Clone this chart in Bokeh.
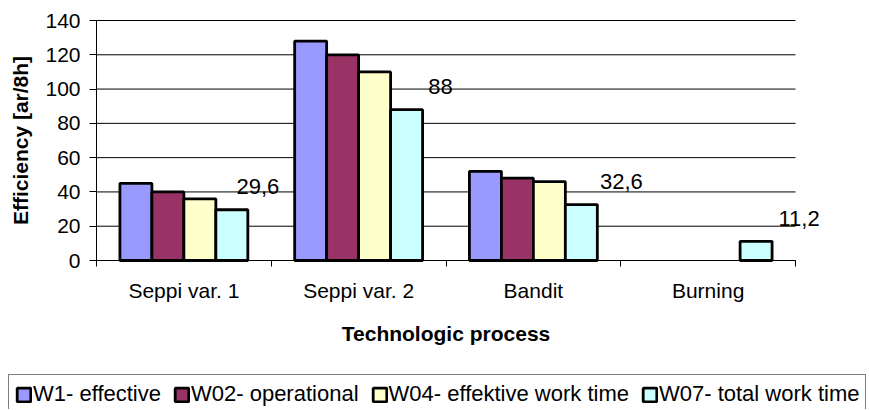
import numpy as np
from bokeh.plotting import figure
from bokeh.models import ColumnDataSource, FixedTicker, Legend, LegendItem, Range1d, LabelSet
from bokeh.transform import dodge
from bokeh.core.properties import value
from bokeh.embed import file_html
from bokeh.resources import INLINE

# ---- data ----
categories = ["Seppi var. 1", "Seppi var. 2", "Bandit", "Burning"]
series_names = ["W1- effective", "W02- operational", "W04- effektive work time", "W07- total work time"]
w1 = [45, 128, 52, np.nan]
w02 = [40, 120, 48, np.nan]
w04 = [36, 110, 46, np.nan]
w07 = [29.6, 88, 32.6, 11.2]
w07_labels = ["29,6", "88", "32,6", "11,2"]
y_ticks = [0, 20, 40, 60, 80, 100, 120, 140]

# ---- style / layout ----
colors = ["#9999FF", "#993366", "#FFFFCC", "#CCFFFF"]
FONT = "Liberation Sans"
W, H = 866, 409
n = len(categories)
y_max = y_ticks[-1]
px_left, px_right = 96, 795      # pixel columns of category bounds 0 and n
py_top, py_bottom = 20, 260      # pixel rows of y_max and 0
sx = (px_right - px_left) / n
sy = (py_bottom - py_top) / y_max
x_range = Range1d(-px_left / sx, n + (W - px_right) / sx)
y_range = Range1d(-(H - py_bottom) / sy, y_max + py_top / sy)

bar_w = 0.183
offsets = [-1.5 * bar_w, -0.5 * bar_w, 0.5 * bar_w, 1.5 * bar_w]
label_dx = [26, 34, 40, 43]  # pixel shift of the data labels

centers = [i + 0.5 for i in range(n)]
src = ColumnDataSource(dict(x=centers, w1=w1, w02=w02, w04=w04, w07=w07,
                            lab=w07_labels, dx=label_dx))

p = figure(width=W, height=H, output_backend="svg", toolbar_location=None,
           x_range=x_range, y_range=y_range,
           min_border_left=0, min_border_right=0, min_border_top=0, min_border_bottom=0)
p.outline_line_color = None
p.background_fill_color = "white"
p.border_fill_color = "white"
p.xgrid.grid_line_color = None
p.ygrid.grid_line_color = None

# horizontal gridlines across the category span only
p.segment(x0=0, x1=n, y0=y_ticks, y1=y_ticks, line_color="black", line_width=1)

items = []
for name, col, off, c in zip(series_names, ["w1", "w02", "w04", "w07"], offsets, colors):
    r = p.vbar(x=dodge("x", off, range=p.x_range), top=col, width=bar_w, bottom=0,
               source=src, fill_color=c, line_color="black", line_width=2.8)
    items.append(LegendItem(label=name, renderers=[r]))

labels = LabelSet(x=dodge("x", offsets[3], range=p.x_range), y="w07", text="lab", source=src,
                  x_offset="dx", y_offset=23, text_align="center", text_baseline="middle",
                  text_font=value(FONT), text_font_size="22px", text_color="black")
p.add_layout(labels)

# axes (fixed inside the frame)
xa = p.xaxis[0]
xa.fixed_location = 0
xa.bounds = (0, n)
xa.ticker = FixedTicker(ticks=centers, minor_ticks=list(range(n + 1)))
xa.major_label_overrides = {c: cat for c, cat in zip(centers, categories)}
xa.major_tick_out = 0
xa.major_tick_in = 0
xa.minor_tick_out = 6
xa.minor_tick_in = 0
xa.minor_tick_line_color = "black"
xa.axis_line_color = "black"
xa.major_label_text_font = FONT
xa.major_label_text_font_size = "21px"
xa.major_label_text_color = "black"
xa.major_label_standoff = 12
xa.axis_label = "Technologic process"
xa.axis_label_text_font = FONT
xa.axis_label_text_font_size = "21px"
xa.axis_label_text_font_style = "bold"
xa.axis_label_text_color = "black"
xa.axis_label_standoff = 17

ya = p.yaxis[0]
ya.fixed_location = 0
ya.bounds = (0, y_max)
ya.ticker = FixedTicker(ticks=y_ticks, minor_ticks=[])
ya.major_tick_out = 7
ya.major_tick_in = 0
ya.major_tick_line_color = "black"
ya.axis_line_color = "black"
ya.major_label_text_font = FONT
ya.major_label_text_font_size = "21px"
ya.major_label_text_color = "black"
ya.major_label_standoff = 9
ya.axis_label = "Efficiency [ar/8h]"
ya.axis_label_text_font = FONT
ya.axis_label_text_font_size = "21px"
ya.axis_label_text_font_style = "bold"
ya.axis_label_text_color = "black"
ya.axis_label_standoff = 10

legend = Legend(items=items, orientation="horizontal", location=(8, -5),
                label_text_font=FONT, label_text_font_size="22px", label_text_color="black",
                glyph_width=17, glyph_height=17, label_standoff=1, spacing=12,
                padding=6, margin=0, border_line_color="black", border_line_width=1,
                background_fill_color="white", background_fill_alpha=1)
p.add_layout(legend, "center")

open("out.html", "w").write(file_html(p, INLINE))
